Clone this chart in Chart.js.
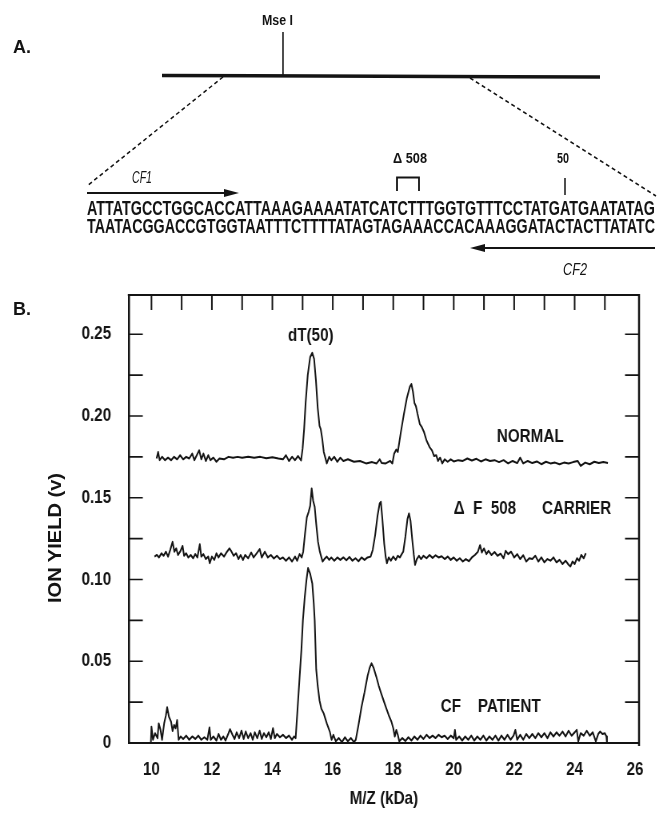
<!DOCTYPE html>
<html><head><meta charset="utf-8">
<script src="https://cdn.jsdelivr.net/npm/chart.js@4.4.1/dist/chart.umd.min.js"></script>
<style>
html,body{margin:0;padding:0;background:#fff;width:659px;height:817px;overflow:hidden}
#wrap{position:relative;width:659px;height:817px}
#c{position:absolute;left:0;top:0}
#diagram{position:absolute;left:0;top:0;pointer-events:none}
</style></head>
<body><div id="wrap">
<!-- the chart canvas is drawn 1.25x wider and shown at 659px, giving a condensed typeface like the original -->
<canvas id="c" width="824" height="817" style="width:659px;height:817px"></canvas>
<svg id="diagram" width="659" height="817" viewBox="0 0 659 817" xmlns="http://www.w3.org/2000/svg">
<g fill="#141414" stroke="none" font-family="'Liberation Sans',Arial,sans-serif">
  <text x="13" y="53" font-weight="bold" font-size="18">A.</text>
  <text x="13" y="315" font-weight="bold" font-size="18">B.</text>
  <text x="262" y="25" font-size="14" font-weight="bold" textLength="31" lengthAdjust="spacingAndGlyphs">Mse I</text>
  <text x="132" y="183" font-size="16" font-style="italic" textLength="20" lengthAdjust="spacingAndGlyphs">CF1</text>
  <text x="393" y="163" font-size="14" font-weight="bold" textLength="34" lengthAdjust="spacingAndGlyphs">Δ 508</text>
  <text x="557" y="163" font-size="14" font-weight="bold" textLength="12" lengthAdjust="spacingAndGlyphs">50</text>
  <text x="87" y="215" font-size="20" font-weight="bold" textLength="568" lengthAdjust="spacingAndGlyphs">ATTATGCCTGGCACCATTAAAGAAAATATCATCTTTGGTGTTTCCTATGATGAATATAG</text>
  <text x="87" y="233" font-size="20" font-weight="bold" textLength="568" lengthAdjust="spacingAndGlyphs">TAATACGGACCGTGGTAATTTCTTTTATAGTAGAAACCACAAAGGATACTACTTATATC</text>
  <text x="563" y="275" font-size="16" font-style="italic" textLength="24" lengthAdjust="spacingAndGlyphs">CF2</text>
  <text transform="translate(61,538) rotate(-90)" text-anchor="middle" font-size="19" font-weight="bold" textLength="130" lengthAdjust="spacingAndGlyphs">ION YIELD (v)</text>
  <polygon points="224,189 239,193 224,197"/>
  <polygon points="470,248 485,244 485,252"/>
</g>
<g stroke="#141414" fill="none">
  <line x1="162" y1="75.5" x2="600" y2="77" stroke-width="3.5"/>
  <line x1="283" y1="32" x2="283" y2="76" stroke-width="1.5"/>
  <line x1="223" y1="77" x2="87" y2="186" stroke-width="1.5" stroke-dasharray="4 3"/>
  <line x1="470" y1="78" x2="656" y2="196" stroke-width="1.5" stroke-dasharray="4 3"/>
  <line x1="87" y1="193" x2="228" y2="193" stroke-width="1.8"/>
  <line x1="482" y1="248" x2="655" y2="248" stroke-width="1.8"/>
  <path d="M397 191 V177.5 H419 V191" stroke-width="1.8"/>
  <line x1="565" y1="178" x2="565" y2="195" stroke-width="1.5"/>
</g>
</svg>
</div>
<script>
// ---- data ----
const normalMz = [10.17,10.22,10.27,10.35,10.45,10.55,10.65,10.75,10.85,10.95,11.05,11.15,11.25,11.35,11.42,11.5,11.58,11.65,11.72,11.8,11.88,11.95,12.05,12.15,12.25,12.4,12.55,12.7,12.85,13.0,13.2,13.4,13.6,13.8,14.0,14.2,14.35,14.45,14.55,14.65,14.75,14.85,14.95,15.0,15.05,15.1,15.17,15.25,15.32,15.38,15.44,15.5,15.56,15.6,15.65,15.7,15.75,15.8,15.88,15.95,16.05,16.15,16.25,16.35,16.5,16.7,16.9,17.1,17.3,17.45,17.55,17.62,17.75,17.9,17.97,18.03,18.1,18.15,18.25,18.35,18.45,18.55,18.6,18.65,18.7,18.75,18.8,18.88,18.95,19.02,19.1,19.2,19.28,19.35,19.42,19.48,19.55,19.62,19.7,19.8,19.9,20.0,20.15,20.3,20.45,20.6,20.75,20.9,21.05,21.2,21.35,21.5,21.65,21.8,21.95,22.1,22.2,22.3,22.45,22.6,22.75,22.9,23.05,23.2,23.35,23.5,23.65,23.8,23.95,24.1,24.2,24.35,24.5,24.65,24.8,24.95,25.1];
const normalYield = [0.174,0.178,0.173,0.175,0.173,0.1745,0.173,0.175,0.1735,0.176,0.1735,0.175,0.174,0.177,0.173,0.176,0.179,0.1735,0.177,0.1725,0.176,0.173,0.1745,0.172,0.174,0.1735,0.175,0.1745,0.175,0.1745,0.175,0.1745,0.175,0.1742,0.1748,0.174,0.1735,0.176,0.1725,0.175,0.173,0.1755,0.1728,0.18,0.192,0.208,0.225,0.236,0.2386,0.235,0.222,0.205,0.194,0.192,0.186,0.178,0.1745,0.171,0.175,0.173,0.175,0.172,0.1745,0.1725,0.1735,0.172,0.1725,0.171,0.1718,0.171,0.1735,0.1712,0.171,0.1725,0.171,0.177,0.1795,0.178,0.19,0.201,0.211,0.218,0.2195,0.215,0.208,0.206,0.2015,0.195,0.193,0.19,0.185,0.181,0.179,0.1755,0.176,0.1725,0.1745,0.171,0.1735,0.172,0.1735,0.1722,0.173,0.1725,0.174,0.1728,0.1738,0.1722,0.1735,0.1725,0.173,0.1718,0.173,0.171,0.1725,0.1712,0.1745,0.171,0.1725,0.1712,0.1722,0.1705,0.172,0.171,0.1715,0.1705,0.1715,0.171,0.1718,0.1725,0.1695,0.1715,0.1705,0.172,0.1712,0.1718,0.1713];

const carrierMz = [10.1,10.18,10.25,10.33,10.4,10.48,10.55,10.62,10.7,10.76,10.82,10.88,10.95,11.03,11.08,11.15,11.22,11.3,11.38,11.45,11.52,11.6,11.65,11.72,11.8,11.88,11.93,12.0,12.08,12.15,12.22,12.3,12.4,12.5,12.58,12.65,12.72,12.8,12.88,12.95,13.03,13.1,13.2,13.3,13.38,13.48,13.58,13.65,13.75,13.85,13.95,14.05,14.15,14.25,14.35,14.45,14.55,14.65,14.75,14.82,14.9,14.97,15.02,15.08,15.14,15.2,15.25,15.3,15.35,15.4,15.45,15.51,15.57,15.62,15.66,15.72,15.8,15.88,15.95,16.05,16.15,16.25,16.35,16.45,16.55,16.65,16.75,16.85,16.95,17.05,17.15,17.25,17.32,17.4,17.48,17.55,17.59,17.64,17.7,17.75,17.79,17.85,17.92,18.0,18.08,18.15,18.22,18.28,18.33,18.4,18.47,18.52,18.57,18.63,18.68,18.72,18.78,18.85,18.92,19.0,19.1,19.2,19.3,19.4,19.5,19.6,19.7,19.8,19.9,20.0,20.1,20.2,20.3,20.4,20.5,20.6,20.7,20.8,20.87,20.93,21.0,21.08,21.15,21.25,21.35,21.45,21.55,21.65,21.72,21.8,21.9,22.0,22.1,22.2,22.3,22.4,22.5,22.6,22.7,22.8,22.9,23.0,23.1,23.2,23.3,23.4,23.5,23.6,23.7,23.8,23.86,23.93,24.0,24.08,24.15,24.22,24.3,24.37];
const carrierYield = [0.114,0.115,0.1135,0.116,0.1145,0.117,0.114,0.118,0.123,0.117,0.119,0.115,0.117,0.1205,0.1145,0.116,0.1135,0.115,0.113,0.1155,0.1135,0.1215,0.114,0.1155,0.1125,0.114,0.110,0.114,0.112,0.116,0.1135,0.116,0.114,0.117,0.119,0.117,0.1145,0.116,0.1125,0.115,0.112,0.115,0.113,0.1165,0.1135,0.116,0.1186,0.1135,0.117,0.1135,0.115,0.1128,0.1145,0.1125,0.1135,0.1115,0.1135,0.111,0.114,0.1115,0.1155,0.1135,0.117,0.128,0.138,0.1414,0.145,0.1557,0.148,0.1444,0.134,0.123,0.117,0.1137,0.111,0.1125,0.114,0.112,0.1135,0.1115,0.1135,0.112,0.1135,0.1118,0.1138,0.1115,0.113,0.1112,0.1135,0.112,0.1135,0.114,0.118,0.127,0.139,0.1465,0.1475,0.137,0.122,0.1137,0.110,0.1135,0.1115,0.114,0.112,0.1145,0.1135,0.1155,0.117,0.126,0.137,0.1404,0.136,0.124,0.115,0.109,0.1125,0.1145,0.1125,0.1145,0.113,0.115,0.1132,0.1148,0.1135,0.1142,0.1125,0.114,0.112,0.1135,0.1115,0.113,0.111,0.1125,0.1112,0.1135,0.115,0.117,0.121,0.1165,0.119,0.1155,0.1175,0.115,0.1168,0.1145,0.1158,0.113,0.1175,0.1155,0.117,0.1135,0.1155,0.1125,0.1148,0.111,0.113,0.1125,0.1145,0.111,0.1135,0.1105,0.1125,0.1115,0.1135,0.1105,0.112,0.1095,0.1115,0.109,0.108,0.111,0.1095,0.113,0.1115,0.115,0.113,0.116];

const cfMz = [9.98,10.0,10.05,10.12,10.2,10.24,10.3,10.35,10.42,10.48,10.52,10.58,10.65,10.7,10.75,10.8,10.85,10.9,10.97,11.05,11.15,11.25,11.35,11.45,11.55,11.65,11.75,11.85,11.92,11.96,12.05,12.15,12.22,12.3,12.38,12.45,12.55,12.6,12.68,12.75,12.82,12.9,12.98,13.05,13.12,13.2,13.28,13.35,13.42,13.5,13.58,13.65,13.72,13.8,13.88,13.95,14.02,14.08,14.15,14.25,14.35,14.45,14.55,14.65,14.72,14.77,14.83,14.9,14.96,15.01,15.07,15.13,15.18,15.25,15.32,15.37,15.4,15.45,15.5,15.56,15.62,15.7,15.8,15.9,15.96,16.02,16.1,16.2,16.3,16.4,16.5,16.6,16.7,16.76,16.85,16.95,17.05,17.15,17.22,17.28,17.35,17.44,17.52,17.6,17.68,17.77,17.85,17.94,18.0,18.05,18.1,18.15,18.2,18.3,18.4,18.5,18.6,18.7,18.8,18.9,19.0,19.1,19.2,19.3,19.4,19.5,19.6,19.7,19.8,19.9,20.0,20.04,20.08,20.18,20.28,20.38,20.48,20.58,20.68,20.78,20.88,20.98,21.08,21.18,21.28,21.38,21.48,21.58,21.68,21.78,21.88,21.98,22.04,22.1,22.2,22.3,22.4,22.5,22.6,22.7,22.8,22.9,23.0,23.1,23.2,23.3,23.4,23.5,23.6,23.7,23.8,23.9,24.0,24.07,24.12,24.2,24.3,24.4,24.5,24.6,24.7,24.78,24.84,24.92,25.0,25.05,25.07];
const cfYield = [0.0,0.010,0.002,0.006,0.003,0.012,0.008,0.002,0.012,0.017,0.0218,0.016,0.013,0.0073,0.011,0.009,0.014,0.002,0.004,0.0025,0.0045,0.002,0.004,0.0025,0.0045,0.002,0.0035,0.002,0.0095,0.002,0.004,0.0015,0.0055,0.002,0.004,0.0015,0.006,0.0084,0.005,0.0025,0.0065,0.003,0.0075,0.0025,0.007,0.003,0.006,0.002,0.0065,0.003,0.0075,0.0025,0.006,0.0035,0.0065,0.0025,0.009,0.003,0.0055,0.0035,0.005,0.003,0.0045,0.002,0.004,0.003,0.02,0.04,0.057,0.075,0.089,0.1,0.107,0.1035,0.0976,0.085,0.075,0.045,0.035,0.026,0.021,0.018,0.012,0.007,0.002,0.005,0.001,0.003,0.0005,0.0035,0.001,0.003,0.0005,0.002,0.011,0.022,0.031,0.041,0.046,0.0487,0.046,0.0405,0.035,0.0304,0.026,0.0212,0.017,0.013,0.009,0.004,0.008,0.005,0.001,0.003,0.0012,0.0035,0.0015,0.004,0.002,0.0045,0.0025,0.005,0.003,0.0045,0.003,0.005,0.0035,0.0045,0.0025,0.0045,0.003,0.008,0.002,0.004,0.0015,0.004,0.002,0.0045,0.0015,0.004,0.002,0.0045,0.0015,0.004,0.002,0.0045,0.0015,0.0045,0.002,0.005,0.002,0.0045,0.008,0.002,0.005,0.002,0.0055,0.003,0.0055,0.003,0.006,0.0035,0.006,0.003,0.0065,0.004,0.0065,0.0045,0.007,0.004,0.0075,0.0045,0.0065,0.008,0.001,0.006,0.0045,0.0075,0.0045,0.0065,0.001,0.0055,0.007,0.0055,0.006,0.004,0.0];

const xTickLabels = [10,12,14,16,18,20,22,24,26];
const yTickLabels = [0,0.05,0.10,0.15,0.20,0.25];
const xInnerTicks = [10,11,12,13,14,15,16,17,18,19,20,21,22,23,24,25];
const yInnerTicks = [0.025,0.05,0.075,0.10,0.125,0.15,0.175,0.20,0.225,0.25];
const traceLabels = ['dT(50)','NORMAL','\u0394  F  508','CARRIER','CF','PATIENT'];
const traceLabelMz = [15.27,21.43,20.0,22.92,19.57,20.8];
const traceLabelYield = [0.2488,0.187,0.1433,0.1433,0.022,0.022];
const traceLabelAlign = ['center','left','left','left','left','left'];
const xTitle = 'M/Z (kDa)';

// ---- chart ----
const SX = 824 / 659;              // horizontal drawing scale of the canvas
const FONT = "'Liberation Sans',Arial,sans-serif";
const INK = '#141414';
const pts = (xs, ys) => xs.map((x, i) => ({x, y: ys[i]}));
const trace = (label, xs, ys) => ({label, data: pts(xs, ys), borderColor: INK, borderWidth: 2,
  pointRadius: 0, tension: 0, fill: false, borderJoinStyle: 'round'});

const framePlugin = {
  id: 'frame',
  afterDraw(chart) {
    const {ctx, chartArea: a, scales: {x, y}} = chart;
    ctx.save();
    ctx.strokeStyle = INK;
    ctx.lineWidth = 2;
    ctx.beginPath(); ctx.moveTo(a.left - 1.2, a.top); ctx.lineTo(a.right, a.top); ctx.stroke();
    ctx.lineWidth = 2 * SX;
    ctx.beginPath(); ctx.moveTo(a.right, a.top - 1); ctx.lineTo(a.right, a.bottom + 3); ctx.stroke();
    ctx.lineWidth = 1.6 * SX;
    ctx.beginPath();
    xInnerTicks.forEach(v => { const px = x.getPixelForValue(v); ctx.moveTo(px, a.top); ctx.lineTo(px, a.top + 15); });
    ctx.stroke();
    ctx.lineWidth = 1.6;
    ctx.beginPath();
    yInnerTicks.forEach(v => { const py = y.getPixelForValue(v);
      ctx.moveTo(a.left, py); ctx.lineTo(a.left + 14 * SX, py);
      ctx.moveTo(a.right, py); ctx.lineTo(a.right - 14 * SX, py); });
    ctx.stroke();
    ctx.fillStyle = INK; ctx.font = "bold 19px " + FONT; ctx.textBaseline = 'middle';
    traceLabels.forEach((t, i) => {
      ctx.textAlign = traceLabelAlign[i];
      ctx.fillText(t, x.getPixelForValue(traceLabelMz[i]), y.getPixelForValue(traceLabelYield[i]));
    });
    ctx.restore();
  }
};

new Chart(document.getElementById('c'), {
  type: 'line',
  data: {datasets: [
    trace('NORMAL', normalMz, normalYield),
    trace('\u0394F 508 CARRIER', carrierMz, carrierYield),
    trace('CF PATIENT', cfMz, cfYield)
  ]},
  options: {
    responsive: false, animation: false, devicePixelRatio: 1,
    layout: {padding: {left: 0, right: 25, top: 295, bottom: 0}},
    plugins: {legend: {display: false}, tooltip: {enabled: false}},
    scales: {
      x: {
        type: 'linear', min: 9.25, max: 26.13,
        afterFit: s => { s.height = 74; },
        afterBuildTicks: s => { s.ticks = xTickLabels.map(v => ({value: v})); },
        grid: {display: false, drawTicks: false},
        border: {display: true, color: INK, width: 2},
        ticks: {color: INK, font: {family: FONT, size: 19, weight: 'bold'}, padding: 15, maxRotation: 0, autoSkip: false,
                callback: v => String(v)},
        title: {display: true, text: xTitle, color: INK, font: {family: FONT, size: 19, weight: 'bold'}, padding: {top: 0, bottom: 7}}
      },
      y: {
        type: 'linear', min: 0, max: 0.274,
        afterFit: s => { s.width = 161; },
        afterBuildTicks: s => { s.ticks = yTickLabels.map(v => ({value: v})); },
        grid: {display: false, drawTicks: false},
        border: {display: true, color: INK, width: 2.5},
        ticks: {color: INK, font: {family: FONT, size: 19, weight: 'bold'}, padding: 22, autoSkip: false,
                callback: v => (v === 0 ? '0' : v.toFixed(2))},
        title: {display: false, text: 'ION YIELD (v)'}
      }
    }
  },
  plugins: [framePlugin]
});
</script>
</body></html>
